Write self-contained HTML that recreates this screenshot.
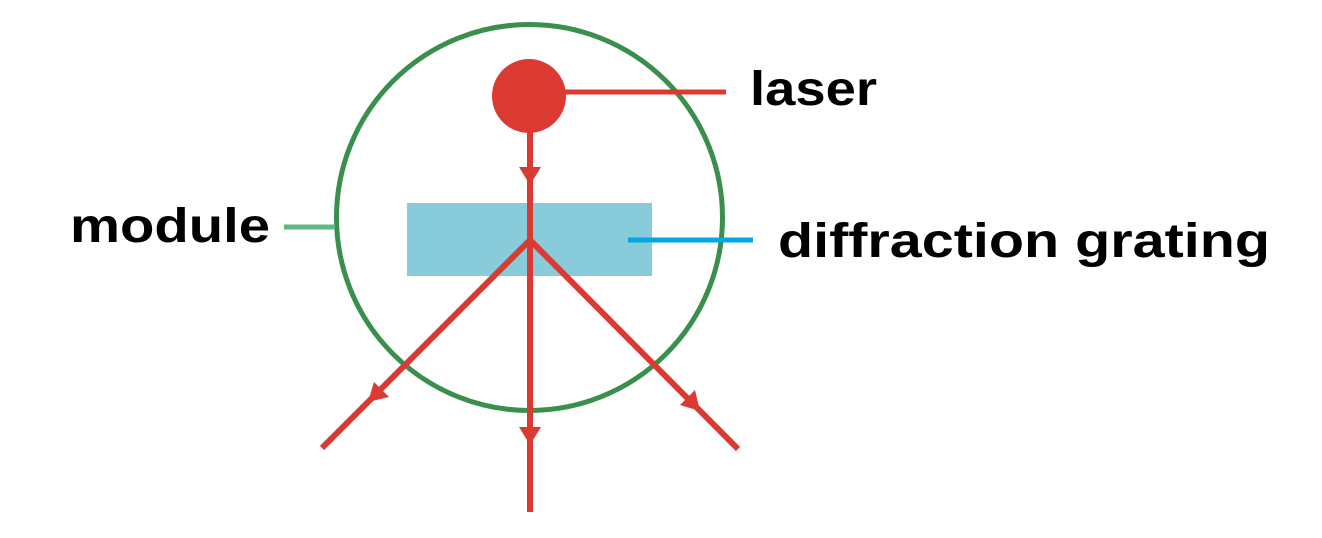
<!DOCTYPE html>
<html><head><meta charset="utf-8"><style>
html,body{margin:0;padding:0;background:#fff;}
svg{display:block}
text{font-family:"Liberation Sans",sans-serif;font-weight:bold;fill:#000;}
</style></head><body>
<svg width="1322" height="538" viewBox="0 0 1322 538">
<circle cx="529.5" cy="217.5" r="193" fill="none" stroke="#3a8f4c" stroke-width="5"/>
<rect x="407" y="203" width="245" height="73" fill="#88cbdb"/>
<line x1="284" y1="227" x2="335" y2="227" stroke="#5fb880" stroke-width="5"/>
<line x1="628" y1="240" x2="753" y2="240" stroke="#00a9e4" stroke-width="5"/>
<line x1="530" y1="92" x2="726" y2="92" stroke="#db3a33" stroke-width="5"/>
<g stroke="#db3a33" stroke-width="6" fill="none">
<line x1="530" y1="95" x2="530" y2="512"/>
<line x1="530" y1="240" x2="322" y2="448"/>
<line x1="530" y1="240" x2="738" y2="449"/>
</g>
<g fill="#db3a33">
<path d="M519,167 L541,167 L530,185 z"/>
<path d="M519,427 L541,427 L530,445 z"/>
<path d="M368,402 L374,382 L389,397 z"/>
<path d="M700,411 L680,405 L695,390 z"/>
</g>
<circle cx="529" cy="96" r="37" fill="#db3a33"/>
<text x="750" y="105" font-size="48" textLength="127" lengthAdjust="spacingAndGlyphs">laser</text>
<text x="70" y="242" font-size="48" textLength="200" lengthAdjust="spacingAndGlyphs">module</text>
<text x="778" y="257" font-size="48" textLength="492" lengthAdjust="spacingAndGlyphs">diffraction grating</text>
</svg>
</body></html>
